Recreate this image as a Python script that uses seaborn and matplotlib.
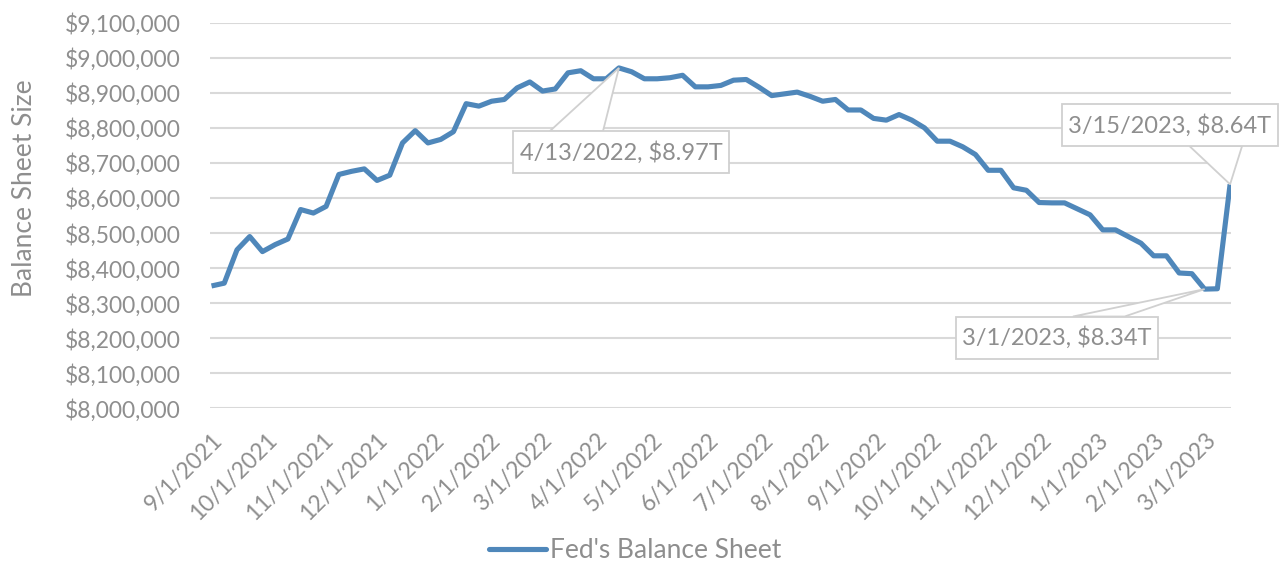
import matplotlib
matplotlib.use("Agg")
import matplotlib.pyplot as plt
import matplotlib.dates as mdates
from matplotlib.patches import Polygon, Rectangle
from matplotlib.transforms import IdentityTransform
import seaborn as sns
import pandas as pd

# ---------------- data ----------------
start_date = "2021-09-01"
n_weeks = 81
values = [
    8349000, 8357000, 8452000, 8490000, 8447000, 8467000, 8483000, 8567000,
    8557000, 8576000, 8667000, 8676000, 8683000, 8650000, 8665000, 8757000,
    8792000, 8757000, 8767000, 8789000, 8869000, 8862000, 8876000, 8881000,
    8914000, 8931000, 8905000, 8911000, 8957000, 8963000, 8940000, 8940000,
    8971000, 8960000, 8940000, 8940000, 8943000, 8950000, 8917000, 8917000,
    8921000, 8936000, 8938000, 8916000, 8892000, 8897000, 8902000, 8890000,
    8876000, 8881000, 8851000, 8851000, 8827000, 8822000, 8838000, 8822000,
    8800000, 8762000, 8762000, 8746000, 8724000, 8679000, 8679000, 8629000,
    8622000, 8587000, 8586000, 8586000, 8569000, 8552000, 8509000, 8509000,
    8490000, 8471000, 8435000, 8435000, 8386000, 8384000, 8340000, 8341000,
    8639000,
]
series_name = "Fed's Balance Sheet"

xtick_dates = ["2021-09-01", "2021-10-01", "2021-11-01", "2021-12-01",
               "2022-01-01", "2022-02-01", "2022-03-01", "2022-04-01",
               "2022-05-01", "2022-06-01", "2022-07-01", "2022-08-01",
               "2022-09-01", "2022-10-01", "2022-11-01", "2022-12-01",
               "2023-01-01", "2023-02-01", "2023-03-01"]
xtick_labels = ["9/1/2021", "10/1/2021", "11/1/2021", "12/1/2021",
                "1/1/2022", "2/1/2022", "3/1/2022", "4/1/2022",
                "5/1/2022", "6/1/2022", "7/1/2022", "8/1/2022",
                "9/1/2022", "10/1/2022", "11/1/2022", "12/1/2022",
                "1/1/2023", "2/1/2023", "3/1/2023"]
ytick_values = [8000000, 8100000, 8200000, 8300000, 8400000, 8500000,
                8600000, 8700000, 8800000, 8900000, 9000000, 9100000]
ytick_labels = ["$8,000,000", "$8,100,000", "$8,200,000", "$8,300,000",
                "$8,400,000", "$8,500,000", "$8,600,000", "$8,700,000",
                "$8,800,000", "$8,900,000", "$9,000,000", "$9,100,000"]
y_label = "Balance Sheet Size"

# callouts: point index, text
callout_index = [32, 80, 78]
callout_text = ["4/13/2022, $8.97T", "3/15/2023, $8.64T", "3/1/2023, $8.34T"]

# ---------------- style ----------------
LINE = "#4f87ba"
TEXT = "#8e8e8e"
GRID = "#d9d9d9"
BOXEDGE = "#d0d0d0"

sns.set_theme(style="white")
plt.rcParams["font.family"] = ["Lato", "DejaVu Sans"]

W, H = 1279, 563
fig = plt.figure(figsize=(W / 100, H / 100), dpi=100)
ax = fig.add_axes([210 / W, 1 - 408.3 / H, (1231 - 210) / W, (408.3 - 22.7) / H])

dates = pd.date_range(start_date, periods=n_weeks, freq="7D")
df = pd.DataFrame({"date": dates, "value": values})
sns.lineplot(data=df, x="date", y="value", ax=ax, color=LINE, linewidth=3.7,
             label=series_name, solid_joinstyle="round", solid_capstyle="butt",
             zorder=3)

ax.set_xlim(pd.Timestamp("2021-08-31 04:00"), pd.Timestamp("2023-03-15 12:00"))
ax.set_ylim(ytick_values[0], ytick_values[-1])

for s in ax.spines.values():
    s.set_visible(False)
ax.yaxis.grid(True, color=GRID, linewidth=1.5)
ax.xaxis.grid(False)
ax.set_axisbelow(True)

ax.set_yticks(ytick_values)
ax.set_yticklabels(ytick_labels)
ax.set_xticks(pd.to_datetime(xtick_dates))
ax.set_xticklabels(xtick_labels, rotation=45, ha="right", va="top",
                   rotation_mode="anchor")
ax.tick_params(axis="y", length=0, pad=21, labelsize=16.5, labelcolor=TEXT)
ax.tick_params(axis="x", length=0, pad=15, labelsize=16.5, labelcolor=TEXT)
ax.set_xlabel("")
ax.set_ylabel("")

fig.text(25 / W, 1 - 188.5 / H, y_label, rotation=90, ha="center", va="center",
         fontsize=19, color=TEXT)

handles, labels = ax.get_legend_handles_labels()
leg = ax.legend(handles, labels, loc="center", bbox_to_anchor=(635 / W, 1 - 551 / H),
                bbox_transform=fig.transFigure, frameon=False, fontsize=19,
                handlelength=2.15, handletextpad=0.15, labelcolor=TEXT)
for ln in leg.get_lines():
    ln.set_solid_capstyle("round")

# ---------------- callouts (pixel offsets from the data point, image y-down) ----
box_offsets = [(-106, 110, 63.4, 105), (-168, 47.6, -80, -38.3),
               (-249, -46.7, 27.4, 69.7)]
base_offsets = [(-69.3, -16, 63.4), (-40.7, 12, -38.3), (-131.7, -80, 27.4)]

fig.canvas.draw()
ident = IdentityTransform()
for idx, txt, (l, r, t, b), (bx1, bx2, by) in zip(callout_index, callout_text,
                                                   box_offsets, base_offsets):
    ax_x = mdates.date2num(dates[idx])
    px, py = ax.transData.transform((ax_x, values[idx]))
    wedge = Polygon([(px, py), (px + bx1, py - by), (px + bx2, py - by)],
                    closed=True, fc="white", ec=BOXEDGE, lw=1.3,
                    transform=ident, zorder=5)
    fig.add_artist(wedge)
    rect = Rectangle((px + l, py - b), r - l, b - t, fc="white", ec=BOXEDGE,
                     lw=1.3, transform=ident, zorder=6)
    fig.add_artist(rect)
    fig.text(px + (l + r) / 2, py - (t + b) / 2, txt, transform=ident,
             ha="center", va="center", fontsize=17, color=TEXT, zorder=7)

fig.savefig("out.png", dpi=100)
